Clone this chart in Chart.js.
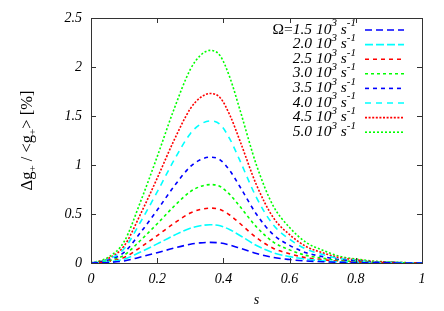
<!DOCTYPE html>
<html>
<head>
<meta charset="utf-8">
<script src="https://cdn.jsdelivr.net/npm/chart.js@4.4.0/dist/chart.umd.min.js"></script>
<style>
  body { margin: 0; background: #fff; }
</style>
</head>
<body>
<canvas id="profileChart" width="444" height="311"></canvas>
<script>
const s = [0, 0.05, 0.1, 0.15, 0.2, 0.25, 0.3, 0.33, 0.36, 0.39, 0.42, 0.45, 0.5, 0.55, 0.6, 0.65, 0.7, 0.75, 0.8, 0.85, 0.9, 0.95, 1];

// Delta g+ / <g+> [%] for each rotation rate
const om15 = [0, 0.005, 0.021, 0.061, 0.105, 0.151, 0.191, 0.205, 0.21, 0.205, 0.183, 0.151, 0.097, 0.057, 0.035, 0.020, 0.013, 0.007, 0.004, 0.002, 0.001, 0, 0];
const om20 = [0, 0.010, 0.039, 0.113, 0.195, 0.281, 0.355, 0.380, 0.39, 0.380, 0.339, 0.281, 0.179, 0.105, 0.065, 0.038, 0.023, 0.012, 0.007, 0.004, 0.002, 0.001, 0];
const om25 = [0, 0.014, 0.056, 0.162, 0.28, 0.403, 0.510, 0.546, 0.56, 0.546, 0.487, 0.403, 0.258, 0.151, 0.094, 0.054, 0.034, 0.018, 0.011, 0.005, 0.003, 0.001, 0];
const om30 = [0, 0.02, 0.08, 0.232, 0.40, 0.576, 0.728, 0.78, 0.80, 0.78, 0.696, 0.576, 0.368, 0.216, 0.134, 0.078, 0.048, 0.026, 0.015, 0.007, 0.004, 0.002, 0];
const om35 = [0, 0.027, 0.108, 0.313, 0.54, 0.778, 0.983, 1.053, 1.08, 1.053, 0.940, 0.778, 0.497, 0.292, 0.180, 0.105, 0.065, 0.035, 0.021, 0.010, 0.005, 0.002, 0];
const om40 = [0, 0.036, 0.145, 0.421, 0.725, 1.044, 1.320, 1.414, 1.45, 1.414, 1.262, 1.044, 0.667, 0.392, 0.242, 0.141, 0.087, 0.046, 0.028, 0.013, 0.007, 0.003, 0];
const om45 = [0, 0.043, 0.173, 0.502, 0.865, 1.246, 1.574, 1.687, 1.73, 1.687, 1.505, 1.246, 0.796, 0.467, 0.289, 0.168, 0.104, 0.055, 0.033, 0.016, 0.009, 0.003, 0];
const om50 = [0, 0.054, 0.217, 0.629, 1.085, 1.562, 1.975, 2.116, 2.17, 2.116, 1.888, 1.562, 0.998, 0.586, 0.362, 0.210, 0.130, 0.069, 0.041, 0.020, 0.011, 0.004, 0];

const omegaLabels = ['1.5', '2.0', '2.5', '3.0', '3.5', '4.0', '4.5', '5.0'];
const series = [om15, om20, om25, om30, om35, om40, om45, om50];

const colors = ['#0000ff', '#00ffff', '#ff0000', '#00ff00', '#0000ff', '#00ffff', '#ff0000', '#00ff00'];
const dashes = [[7, 4], [8, 3], [4, 4], [3, 3], [4, 4], [6, 5], [2, 1.6], [2, 2]];

const serif = '"Liberation Serif", "DejaVu Serif", serif';

const datasets = series.map(function(vals, i) {
  return {
    label: omegaLabels[i],
    data: vals.map(function(v, j) { return { x: s[j], y: v }; }),
    borderColor: colors[i],
    borderDash: dashes[i],
    borderWidth: 1.6,
    pointRadius: 0,
    fill: false,
    cubicInterpolationMode: 'monotone'
  };
});

function fmt(v) { return String(+v.toFixed(2)); }

// draws a list of text pieces (with super/subscripts) starting at xStart
function drawPieces(ctx, pieces, xStart, y) {
  let x = xStart;
  pieces.forEach(function(p) {
    ctx.font = p.font;
    ctx.fillText(p.t, x, y + (p.dy || 0));
    x += ctx.measureText(p.t).width;
  });
  return x;
}
function piecesWidth(ctx, pieces) {
  let w = 0;
  pieces.forEach(function(p) { ctx.font = p.font; w += ctx.measureText(p.t).width; });
  return w;
}

// box with inward ticks on all four sides, plus the y title
const framePlugin = {
  id: 'frame',
  afterDraw(chart) {
    const ctx = chart.ctx, a = chart.chartArea;
    const xs = chart.scales.x, ys = chart.scales.y;
    ctx.save();
    ctx.strokeStyle = '#333';
    ctx.lineWidth = 1;
    ctx.beginPath();
    xs.ticks.forEach(function(t) {
      const px = Math.round(xs.getPixelForValue(t.value)) + 0.5;
      ctx.moveTo(px, a.bottom); ctx.lineTo(px, a.bottom - 5);
      ctx.moveTo(px, a.top); ctx.lineTo(px, a.top + 5);
    });
    ys.ticks.forEach(function(t) {
      const py = Math.round(ys.getPixelForValue(t.value)) + 0.5;
      ctx.moveTo(a.left, py); ctx.lineTo(a.left + 5, py);
      ctx.moveTo(a.right, py); ctx.lineTo(a.right - 5, py);
    });
    ctx.stroke();
    ctx.strokeRect(Math.round(a.left) + 0.5, Math.round(a.top) + 0.5,
                   Math.round(a.right - a.left), Math.round(a.bottom - a.top));

    const big = '16.5px ' + serif, small = '11px ' + serif;
    const title = [
      { t: 'Δg', font: big }, { t: '+', font: small, dy: 5 },
      { t: ' / <g', font: big }, { t: '+', font: small, dy: 5 },
      { t: '> [%]', font: big }
    ];
    ctx.fillStyle = '#000';
    ctx.textBaseline = 'middle';
    ctx.textAlign = 'left';
    ctx.translate(28, (a.top + a.bottom) / 2);
    ctx.rotate(-Math.PI / 2);
    drawPieces(ctx, title, -piecesWidth(ctx, title) / 2, 0);
    ctx.restore();
  }
};

// gnuplot style key: text right aligned, line sample to its right
const keyPlugin = {
  id: 'key',
  afterDraw(chart) {
    const ctx = chart.ctx;
    const it = 'italic 15.5px ' + serif, sup = 'italic 11px ' + serif;
    ctx.save();
    ctx.textBaseline = 'middle';
    ctx.textAlign = 'left';
    ctx.fillStyle = '#000';
    chart.data.datasets.forEach(function(ds, i) {
      const y = 29.5 + i * 14.6;
      const pieces = [
        { t: ds.label + ' 10', font: it }, { t: '3', font: sup, dy: -6 },
        { t: ' s', font: it }, { t: '-1', font: sup, dy: -6 }
      ];
      if (i === 0) pieces.unshift({ t: 'Ω=', font: '15.5px ' + serif });
      drawPieces(ctx, pieces, 356 - piecesWidth(ctx, pieces), y);
      ctx.strokeStyle = ds.borderColor;
      ctx.lineWidth = ds.borderWidth;
      ctx.setLineDash(ds.borderDash);
      ctx.beginPath();
      ctx.moveTo(365, y + 0.5); ctx.lineTo(404, y + 0.5);
      ctx.stroke();
      ctx.setLineDash([]);
    });
    ctx.restore();
  }
};

new Chart(document.getElementById('profileChart'), {
  type: 'line',
  data: { datasets: datasets },
  options: {
    responsive: false,
    animation: false,
    layout: { padding: { left: 0, right: 22, top: 18, bottom: 0 } },
    plugins: { legend: { display: false }, tooltip: { enabled: false } },
    scales: {
      x: {
        type: 'linear', min: 0, max: 1,
        afterFit(sc) { sc.height = 48; },
        grid: { display: false, drawTicks: false },
        border: { display: false },
        ticks: { stepSize: 0.2, padding: 8, color: '#000', maxRotation: 0,
                 font: { family: serif, style: 'italic', size: 14 }, callback: fmt },
        title: { display: true, text: 's', color: '#000', padding: { top: 0, bottom: 2 },
                 font: { family: serif, style: 'italic', size: 14 } }
      },
      y: {
        type: 'linear', min: 0, max: 2.5,
        afterFit(sc) { sc.width = 91; },
        grid: { display: false, drawTicks: false },
        border: { display: false },
        ticks: { stepSize: 0.5, padding: 9, color: '#000',
                 font: { family: serif, style: 'italic', size: 14 }, callback: fmt }
      }
    }
  },
  plugins: [framePlugin, keyPlugin]
});
</script>
</body>
</html>
